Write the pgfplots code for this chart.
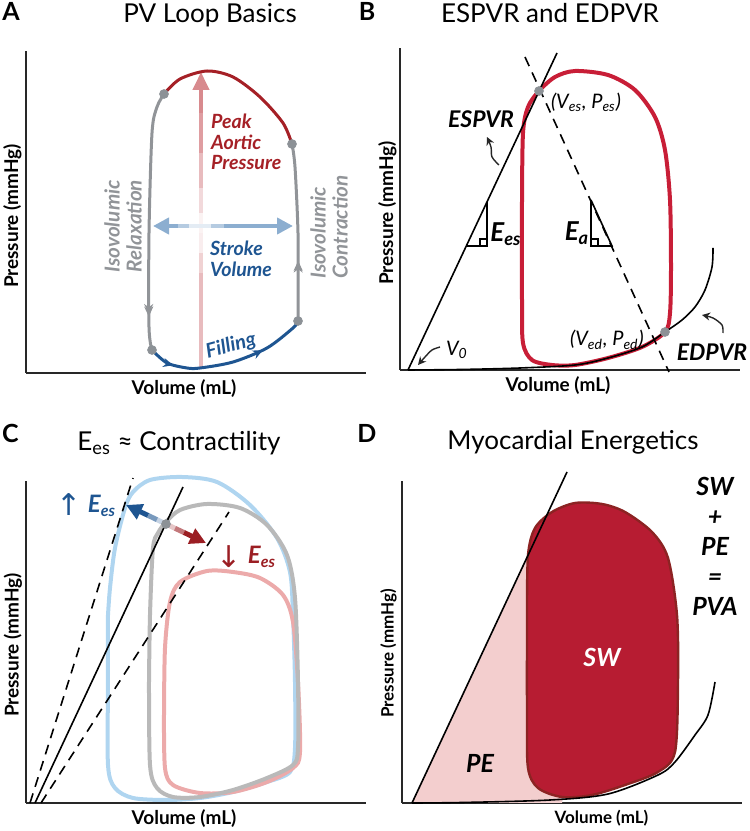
\documentclass[border=0pt]{standalone}
\usepackage{fontspec}
\setmainfont{Lato}
\newfontfamily\dejavu{DejaVu Sans}
\usepackage{pgfplots}
\pgfplotsset{compat=1.18}
\usetikzlibrary{arrows.meta,decorations.markings}
\definecolor{redA}{RGB}{165,32,38}
\definecolor{grayA}{RGB}{145,148,152}
\definecolor{blueA}{RGB}{30,85,145}
\definecolor{pinkA}{RGB}{205,105,110}
\definecolor{sblue}{RGB}{120,160,200}
\definecolor{crim}{RGB}{200,30,55}
\definecolor{dotg}{RGB}{140,145,150}
\definecolor{lblue}{RGB}{175,213,240}
\definecolor{lgray}{RGB}{185,185,185}
\definecolor{lpink}{RGB}{236,170,170}
\definecolor{swfill}{RGB}{183,28,50}
\definecolor{swdraw}{RGB}{140,35,35}
\definecolor{pefill}{RGB}{243,206,206}
\definecolor{axc}{RGB}{40,40,40}
\definecolor{arrR}{RGB}{155,30,35}
\newcommand{\fs}[2]{\fontsize{#1}{#2}\selectfont}
\pgfplotsset{panel/.style={scale only axis, width=170pt, height=161pt,
  xmin=0, xmax=340, ymin=0, ymax=322,
  axis x line=bottom, axis y line=left,
  axis line style={-, line width=1.2pt, axc},
  xtick=\empty, ytick=\empty, clip=false, anchor=south west}}
\tikzset{midarr/.style 2 args={postaction={decorate}, decoration={markings,
  mark=at position #1 with {\arrow{Stealth[length=5pt,width=4.5pt]}},
  mark=at position #2 with {\arrow{Stealth[length=5pt,width=4.5pt]}}}},
  lab/.style={font=\fs{9.5}{10}\bfseries}}
\begin{document}
\begin{tikzpicture}
\useasboundingbox (0,0) rectangle (375pt,415.5pt);
%================ A
\begin{axis}[panel, at={(13pt,229pt)}]
% gradient vertical arrow
\addplot[draw=pinkA!45, line width=2pt] coordinates {(175,5) (175,100)};
\addplot[draw=pinkA!30, line width=2pt] coordinates {(175,100) (175,120)};
\addplot[draw=pinkA!12, line width=2pt] coordinates {(175,120) (175,140)};
\addplot[draw=pinkA!8, line width=2pt] coordinates {(175,140) (175,160)};
\addplot[draw=pinkA!25, line width=2pt] coordinates {(175,160) (175,185)};
\addplot[draw=pinkA!45, line width=2pt] coordinates {(175,185) (175,220)};
\addplot[draw=pinkA!65, line width=2pt] coordinates {(175,220) (175,260)};
\addplot[draw=pinkA!78, line width=2pt, -{Triangle[length=9pt,width=8pt]}] coordinates {(175,260) (175,301)};
% gradient horizontal arrow
\addplot[draw=sblue!85, line width=2pt, {Triangle[length=8pt,width=8pt]}-] coordinates {(127,147) (152,147)};
\addplot[draw=sblue!55, line width=2pt] coordinates {(152,147) (163,147)};
\addplot[draw=sblue!20, line width=2pt] coordinates {(163,147) (174,147)};
\addplot[draw=sblue!20, line width=2pt] coordinates {(174,147) (185,147)};
\addplot[draw=sblue!55, line width=2pt] coordinates {(185,147) (198,147)};
\addplot[draw=sblue!85, line width=2pt, -{Triangle[length=8pt,width=8pt]}] coordinates {(198,147) (267,147)};
% loop segments
\addplot[draw=redA, line width=1.5pt, smooth] coordinates {(266,229) (257,250) (234,276) (207,296) (181,302) (154,294) (138,279)};
\addplot[draw=grayA, line width=1.5pt, smooth, midarr={0.86}{0.87}] coordinates {(138,279) (131,266) (126,240) (123,140) (123,46) (126,23)};
\addplot[draw=blueA, line width=1.5pt, smooth, midarr={0.16}{0.72}] coordinates {(126,23) (141,10) (161,5) (174,5) (207,11) (241,25) (267,45) (272,52)};
\addplot[draw=grayA, line width=1.5pt, smooth, midarr={0.33}{0.34}] coordinates {(272,52) (272,73) (272,140) (269,206) (266,229)};
\addplot[only marks, mark=*, mark size=2.2pt, color=dotg] coordinates {(138,279) (266,229) (272,52) (126,23)};
% texts
\node[anchor=west, align=left, text=redA, font=\fs{9.8}{10.3}\bfseries\itshape] at (axis cs:178,231) {Peak\\Aortic\\Pressure};
\node[anchor=west, align=left, text=blueA, font=\fs{9.8}{10.3}\bfseries\itshape] at (axis cs:177,114) {Stroke\\Volume};
\node[rotate=90, align=left, text=grayA, font=\fs{10.3}{11}\bfseries\itshape] at (axis cs:97,147) {Isovolumic\\Relaxation};
\node[rotate=90, align=left, text=grayA, font=\fs{10.3}{11}\bfseries\itshape] at (axis cs:303,146) {Isovolumic\\Contraction};
\node[rotate=15, text=blueA, font=\fs{10}{10}\bfseries\itshape] at (axis cs:205,27) {Filling};
\node[anchor=base, font=\fs{13}{14}] at (axis cs:184,350) {PV Loop Basics};
\node[anchor=base, font=\fs{12.5}{12}\bfseries] at (axis cs:-15,352) {A};
\node[anchor=base, lab] at (axis cs:158,-22) {Volume (mL)};
\node[rotate=90, lab] at (axis cs:-13.5,157) {Pressure (mmHg)};
\end{axis}
%================ B
\begin{axis}[panel, at={(200pt,230.5pt)}]
\addplot[draw=crim, line width=2pt, smooth] coordinates {(122,170) (123,237) (128,263) (139,279) (155,293) (175,299) (208,295) (235,280) (255,253) (265,220) (270,170) (271,103) (270,57) (265,38) (242,23) (208,12) (175,5) (152,5) (132,10) (123,27) (122,70) (122,170)};
\addplot[draw=black, line width=0.8pt] coordinates {(8,0) (157,317)};
\addplot[draw=black, line width=0.8pt, dash pattern=on 5pt off 3.5pt] coordinates {(125,313) (269,-2)};
\addplot[draw=black, line width=0.8pt, smooth] coordinates {(8,0) (60,0.5) (120,2) (175,5) (208,12) (242,23) (265,38) (282,50) (295,63) (305,80) (312,103) (313,122)};
% triangles
\addplot[draw=black, line width=0.8pt] coordinates {(87,168) (87,124) (67,124)};
\addplot[draw=black, line width=0.6pt] coordinates {(80,124) (80,131) (87,131)};
\addplot[draw=black, line width=0.8pt] coordinates {(191,170) (191,124) (212,124) (191,170)};
\addplot[draw=black, line width=0.6pt] coordinates {(191,131) (198,131) (198,124)};
% curved arrows
\addplot[draw=black!85, line width=0.7pt, smooth, -{Stealth[length=4pt,width=4pt]}] coordinates {(99,205) (92,213) (91,223) (87,233)};
\addplot[draw=black!85, line width=0.7pt, smooth, -{Stealth[length=4pt,width=4pt]}] coordinates {(40,23) (32,20) (25,13) (18,5)};
\addplot[draw=black!85, line width=0.7pt, smooth, -{Stealth[length=4pt,width=4pt]}] coordinates {(323,37) (322,45) (313,52) (302,55)};
\addplot[only marks, mark=*, mark size=2.2pt, color=dotg] coordinates {(139,279) (265,38)};
\node[font=\fs{11.5}{12}\bfseries\itshape] at (axis cs:81,251) {ESPVR};
\node[font=\fs{11.5}{12}\bfseries\itshape] at (axis cs:312,18) {EDPVR};
\node[font=\fs{10}{12}\itshape] at (axis cs:186,268) {(V\textsubscript{es}, P\textsubscript{es})};
\node[font=\fs{10}{12}\itshape] at (axis cs:207,30) {(V\textsubscript{ed}, P\textsubscript{ed})};
\node[font=\fs{10}{12}\itshape] at (axis cs:57,20) {V\textsubscript{0}};
\node[font=\fs{13}{14}\bfseries\itshape] at (axis cs:106,136) {E\textsubscript{es}};
\node[font=\fs{13}{14}\bfseries\itshape] at (axis cs:177,137) {E\textsubscript{a}};
\node[anchor=base, font=\fs{13}{14}] at (axis cs:150,347) {ESPVR and EDPVR};
\node[anchor=base, font=\fs{12.5}{12}\bfseries] at (axis cs:-33,349) {B};
\node[anchor=base, lab] at (axis cs:158,-22) {Volume (mL)};
\node[rotate=90, lab] at (axis cs:-12.5,157) {Pressure (mmHg)};
\end{axis}
%================ C
\begin{axis}[panel, at={(13pt,14pt)}]
\addplot[draw=lblue, line width=2pt, smooth] coordinates {(82,188) (82,121) (82,38) (89,15) (107,5) (141,3) (174,5) (207,11) (241,21) (264,31) (269,55) (269,121) (267,188) (264,231) (251,265) (224,298) (191,321) (156,326) (124,323) (107,311) (99,295) (89,255) (84,215) (82,188)};
\addplot[draw=lpink, line width=2pt, smooth] coordinates {(138,88) (139,35) (147,18) (174,10) (207,11) (241,21) (267,35) (274,51) (272,121) (267,181) (257,208) (234,225) (207,231) (181,232) (154,221) (144,201) (139,155) (138,88)};
\addplot[draw=lgray, line width=2pt, smooth] coordinates {(123,121) (124,38) (131,15) (147,6) (174,6) (207,13) (241,25) (267,38) (272,55) (272,121) (269,205) (261,248) (241,278) (214,295) (181,299) (154,293) (140,281) (132,270) (127,255) (124,188) (123,121)};
\addplot[draw=black, line width=0.8pt] coordinates {(9,0) (157,316)};
\addplot[draw=black, line width=0.8pt, dash pattern=on 5pt off 3.5pt] coordinates {(4,0) (107,325)};
\addplot[draw=black, line width=0.8pt, dash pattern=on 5pt off 3.5pt] coordinates {(15,0) (203,291)};
% arrows
\addplot[draw=blueA!25!white, line width=2.5pt] coordinates {(140,279) (131,283.3)};
\addplot[draw=blueA!60!white, line width=2.5pt] coordinates {(131,283.3) (122,287.6)};
\addplot[draw=blueA, line width=2.5pt, -{Triangle[length=8pt,width=8pt]}] coordinates {(122,287.6) (100,298)};
\addplot[draw=arrR!25!white, line width=2.5pt] coordinates {(140,279) (149,274.7)};
\addplot[draw=arrR!60!white, line width=2.5pt] coordinates {(149,274.7) (158,270.5)};
\addplot[draw=arrR, line width=2.5pt, -{Triangle[length=8pt,width=8pt]}] coordinates {(158,270.5) (180,260)};
\addplot[only marks, mark=*, mark size=2.2pt, color=dotg] coordinates {(140,279)};
\node[text=blueA, font=\fs{15}{15}\dejavu] at (axis cs:43,298) {↑};
\node[text=blueA, font=\fs{12}{12}\bfseries\itshape] at (axis cs:76,297) {E\textsubscript{es}};
\node[text=arrR, font=\fs{15}{15}\dejavu] at (axis cs:203,246) {↓};
\node[text=arrR, font=\fs{12}{12}\bfseries\itshape] at (axis cs:236,246) {E\textsubscript{es}};
\node[anchor=base, font=\fs{13}{14}] at (axis cs:153,352) {E\textsubscript{es} ≈ Contractility};
\node[anchor=base, font=\fs{12.5}{12}\bfseries] at (axis cs:-15.5,360) {C};
\node[anchor=base, lab] at (axis cs:158,-22) {Volume (mL)};
\node[rotate=90, lab] at (axis cs:-13,158) {Pressure (mmHg)};
\end{axis}
%================ D
\begin{axis}[panel, at={(201pt,14pt)}]
\addplot[fill=pefill, draw=none] coordinates {(10,0) (142,282) (160,150) (160,0)} -- cycle;
\addplot[fill=swfill, draw=swdraw, line width=1.2pt, smooth] coordinates {(125,188) (125,88) (126,35) (136,15) (160,6) (190,8) (223,18) (256,31) (273,51) (276,121) (275,188) (266,245) (250,271) (223,291) (200,299) (173,300) (150,291) (133,275) (126,248) (125,188)} -- cycle;
\addplot[draw=black, line width=0.8pt] coordinates {(10,0) (165,331)};
\addplot[draw=black, line width=0.8pt, smooth] coordinates {(10,0) (60,0.5) (148,3) (206,9) (256,28) (273,41) (293,68) (306,88) (313,121)};
\node[text=white, font=\fs{12.5}{14}\bfseries\itshape] at (axis cs:200,146) {SW};
\node[font=\fs{12.5}{14}\bfseries\itshape] at (axis cs:78,40) {PE};
\node[align=center, font=\fs{12.5}{15}\bfseries\itshape] at (axis cs:313,257) {SW\\+\\PE\\=\\PVA};
\node[anchor=base, font=\fs{13}{14}] at (axis cs:171,353) {Myocardial Energetics};
\node[anchor=base, font=\fs{12.5}{12}\bfseries] at (axis cs:-35,360) {D};
\node[anchor=base, font=\fs{8.5}{10}\bfseries] at (axis cs:199.5,-20) {Volume (mL)};
\node[rotate=90, font=\fs{8.5}{10}\bfseries] at (axis cs:-13.5,149.5) {Pressure (mmHg)};
\end{axis}
\end{tikzpicture}
\end{document}
